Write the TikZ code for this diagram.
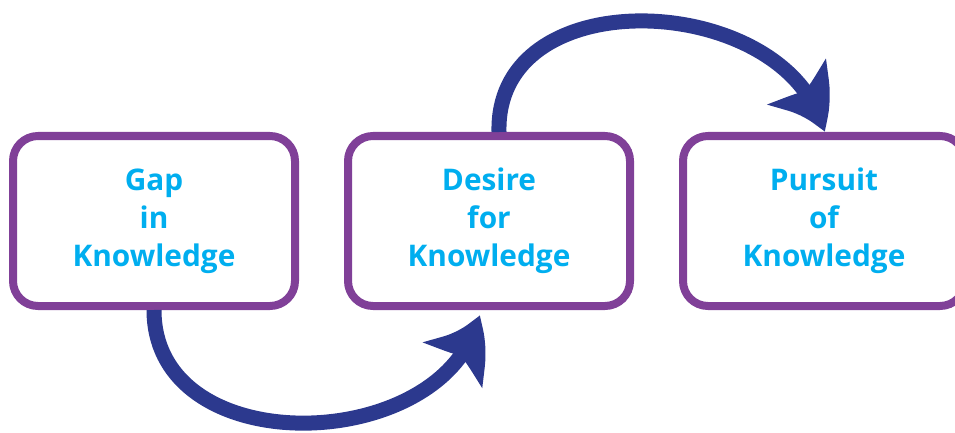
\documentclass[tikz,border=0pt]{standalone}
\usepackage{fontspec}
\setmainfont{Open Sans}
\usetikzlibrary{positioning,arrows.meta,bending}

\definecolor{stagepurple}{RGB}{128,64,152}
\definecolor{flowblue}{RGB}{44,57,142}
\definecolor{stagecyan}{RGB}{0,174,239}

\tikzset{
  stage/.style={draw=stagepurple, line width=8pt, rounded corners=25pt, fill=white,
    minimum width=282pt, minimum height=170pt, align=center, text=stagecyan,
    font=\bfseries\fontsize{29.8}{38}\selectfont},
  bigarrow/.style={draw=flowblue, line width=15pt,
    -{Stealth[length=58pt,width=72pt,inset=12pt,bend]}}
}

\begin{document}
\begin{tikzpicture}[x=1pt,y=1pt]
\useasboundingbox (0,0) rectangle (955,-433);

\node[stage] (gap) at (154,-221) {Gap\\in\\Knowledge};
\node[stage, right=45pt of gap] (desire) {Desire\\for\\Knowledge};
\node[stage, right=45pt of desire] (pursuit) {Pursuit\\of\\Knowledge};

\draw[bigarrow] (gap.south) .. controls +(0,-155) and +(-30,-140) .. ([xshift=-10pt,yshift=-5pt]desire.south);
\draw[bigarrow] ([xshift=10pt]desire.north) .. controls +(-4,156) and +(-33,140) .. (pursuit.north);

\end{tikzpicture}
\end{document}
